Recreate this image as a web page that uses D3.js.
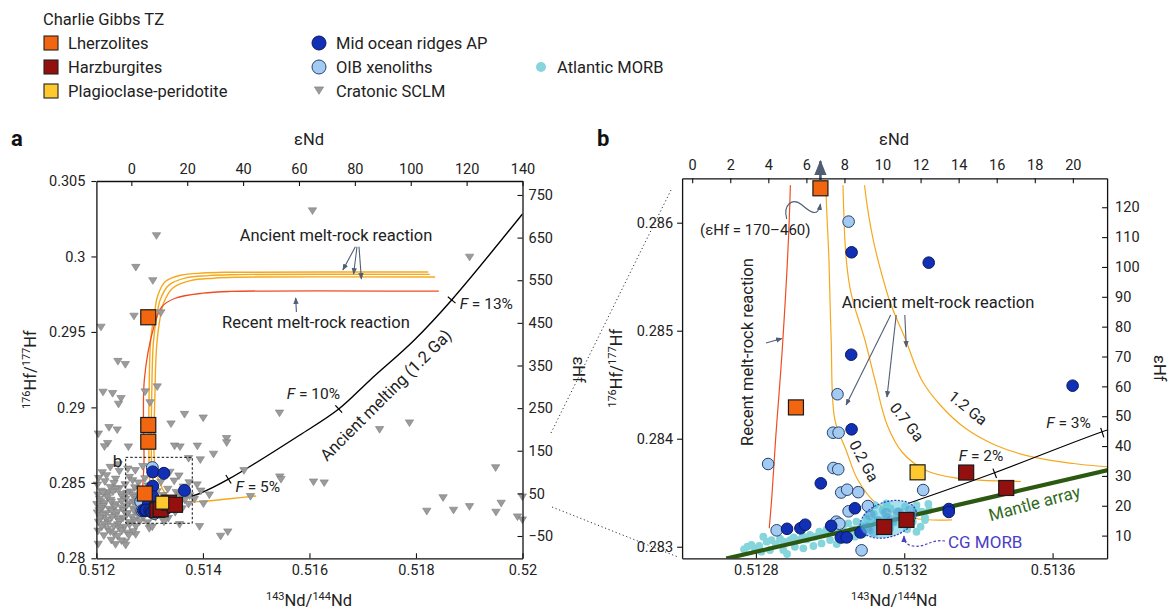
<!DOCTYPE html>
<html>
<head>
<meta charset="utf-8">
<script src="https://cdn.jsdelivr.net/npm/d3@7"></script>
<style>
  body { margin: 0; background: #fff; }
</style>
</head>
<body>
<svg id="chart" width="1172" height="611"></svg>
<script>
// ---------------- data (143Nd/144Nd, 176Hf/177Hf) ----------------
const lherzolites = [[0.512974, 0.295971], [0.512974, 0.288834], [0.512974, 0.287727], [0.512908, 0.284290]];
const harzburgites = [[0.513146, 0.283183], [0.513206, 0.283248], [0.513367, 0.283687], [0.513475, 0.283544]];
const plagPeridotite = [[0.513236, 0.283689]];

const midOceanAP = [
  [0.513058, 0.285726], [0.513266, 0.285630], [0.513057, 0.284778], [0.513654, 0.284491],
  [0.513058, 0.284087], [0.512975, 0.283587], [0.513067, 0.283356], [0.512884, 0.283166],
  [0.512920, 0.283171], [0.512933, 0.283204], [0.513003, 0.283194], [0.513029, 0.283086],
  [0.513045, 0.283087], [0.513082, 0.283132], [0.513320, 0.283349], [0.513320, 0.283322]
];

const oibXenoliths = [
  [0.513050, 0.286010], [0.513020, 0.284412], [0.513008, 0.284056], [0.513023, 0.284056],
  [0.512833, 0.283766], [0.513009, 0.283729], [0.513022, 0.283717], [0.513030, 0.283502],
  [0.513046, 0.283528], [0.513076, 0.283505], [0.513102, 0.283377], [0.513050, 0.283328],
  [0.513017, 0.283232], [0.513025, 0.283213], [0.512856, 0.283152], [0.513085, 0.282967],
  [0.513251, 0.283525]
];

const atlanticMorb = [
  [0.512768, 0.282976], [0.512777, 0.283000], [0.512788, 0.283016], [0.512797, 0.282985],
  [0.512809, 0.283007], [0.512820, 0.283093], [0.512829, 0.283047], [0.512842, 0.283062],
  [0.512854, 0.283025], [0.512865, 0.283075], [0.512875, 0.283047], [0.512884, 0.282933],
  [0.512892, 0.283062], [0.512902, 0.283087], [0.512914, 0.283062], [0.512926, 0.283099],
  [0.512937, 0.283068], [0.512946, 0.283109], [0.512959, 0.283093], [0.512971, 0.283139],
  [0.512982, 0.283118], [0.512991, 0.283161], [0.513004, 0.283139], [0.513016, 0.283179],
  [0.513022, 0.283124], [0.513035, 0.283192], [0.513049, 0.283217], [0.513061, 0.283161],
  [0.513071, 0.283232], [0.513085, 0.283201], [0.513098, 0.283263], [0.513107, 0.283223],
  [0.513118, 0.283303], [0.513130, 0.283247], [0.513142, 0.283340], [0.513152, 0.283278],
  [0.513163, 0.283355], [0.513172, 0.283223], [0.513184, 0.283325], [0.513193, 0.283254],
  [0.513202, 0.283371], [0.513214, 0.283294], [0.513223, 0.283232], [0.513233, 0.283340],
  [0.513244, 0.283186], [0.513256, 0.283272], [0.513267, 0.283340], [0.513233, 0.283139],
  [0.513208, 0.283161], [0.513161, 0.283179], [0.513136, 0.283149], [0.513107, 0.283149],
  [0.513089, 0.283118], [0.513067, 0.283093], [0.513035, 0.283062], [0.513018, 0.283025],
  [0.513000, 0.283062], [0.512977, 0.283031], [0.512955, 0.283007], [0.512928, 0.282985],
  [0.512905, 0.283000], [0.512874, 0.282970], [0.512838, 0.282970], [0.512815, 0.282954],
  [0.513152, 0.283402], [0.513121, 0.283386], [0.513233, 0.283386], [0.513247, 0.283325],
  [0.513265, 0.283396], [0.513256, 0.283247]
];

const cgMorb = [
  [0.513108, 0.283294], [0.513130, 0.283232], [0.513151, 0.283309], [0.513166, 0.283241],
  [0.513184, 0.283315], [0.513202, 0.283254], [0.513217, 0.283334], [0.513099, 0.283179],
  [0.513157, 0.283161], [0.513119, 0.283139]
];
const cgMorbCentre = [0.513157, 0.283254];

const cratonicSclm = [
  [0.516057, 0.303036], [0.513128, 0.301392], [0.512740, 0.299291], [0.513059, 0.298410],
  [0.512706, 0.296057], [0.513209, 0.296276], [0.512086, 0.295328], [0.519007, 0.299967],
  [0.512404, 0.293062], [0.512543, 0.292856], [0.512124, 0.291021], [0.512304, 0.290935],
  [0.512462, 0.290603], [0.512415, 0.290225], [0.512916, 0.291041], [0.513142, 0.291372],
  [0.513006, 0.290325], [0.512036, 0.288251], [0.512237, 0.288681], [0.512391, 0.288522],
  [0.512212, 0.287621], [0.512152, 0.287409], [0.512601, 0.287396], [0.513401, 0.288920],
  [0.513654, 0.289550], [0.514005, 0.289311], [0.513468, 0.287455], [0.513570, 0.287396],
  [0.513896, 0.287449], [0.514443, 0.287952], [0.514446, 0.287674], [0.515438, 0.289636],
  [0.517317, 0.288549], [0.517878, 0.288986], [0.514199, 0.286912], [0.513951, 0.286541],
  [0.513731, 0.286627], [0.514771, 0.285825], [0.515443, 0.285408], [0.515466, 0.285242],
  [0.516076, 0.285070], [0.516277, 0.285010], [0.519495, 0.286017], [0.518509, 0.284029],
  [0.519005, 0.283439], [0.519600, 0.283665], [0.519998, 0.284082], [0.518203, 0.283135],
  [0.518705, 0.283201], [0.519502, 0.283068], [0.519906, 0.282757], [0.519998, 0.282558],
  [0.514893, 0.284109], [0.513936, 0.282121], [0.514332, 0.281478], [0.514467, 0.281763],
  [0.512034, 0.280948], [0.512537, 0.281100], [0.512738, 0.281590], [0.512993, 0.281988],
  [0.513562, 0.282253],
  [0.51226, 0.28604], [0.51259, 0.28593], [0.51287, 0.28610], [0.51241, 0.28622],
  [0.51211, 0.28569], [0.51243, 0.28577], [0.51306, 0.28566], [0.51338, 0.28572], [0.51273, 0.28583],
  [0.51204, 0.28531], [0.51219, 0.28549], [0.51262, 0.28538], [0.51291, 0.28529], [0.51355, 0.28547], [0.51236, 0.28526],
  [0.51216, 0.28509], [0.51233, 0.28498], [0.51268, 0.28516], [0.51279, 0.28501], [0.51321, 0.28506],
  [0.51346, 0.28513], [0.51374, 0.28502],
  [0.51202, 0.28487], [0.51226, 0.28471], [0.51254, 0.28489], [0.51272, 0.28469], [0.51297, 0.28481],
  [0.51363, 0.28474], [0.51389, 0.28488], [0.51243, 0.28463],
  [0.51209, 0.28446], [0.51236, 0.28458], [0.51264, 0.28441], [0.51281, 0.28457], [0.51314, 0.28443],
  [0.51334, 0.28459], [0.51350, 0.28438], [0.51396, 0.28447], [0.51222, 0.28436],
  [0.51203, 0.28421], [0.51219, 0.28416], [0.51246, 0.28424], [0.51268, 0.28418], [0.51291, 0.28423],
  [0.51325, 0.28417], [0.51357, 0.28422], [0.51375, 0.28415], [0.51412, 0.28421],
  [0.51212, 0.28435], [0.51231, 0.28441], [0.51257, 0.28432], [0.51274, 0.28404], [0.51249, 0.28407],
  [0.51221, 0.28403],
  [0.51206, 0.28392], [0.51227, 0.28386], [0.51255, 0.28393], [0.51276, 0.28388], [0.51298, 0.28391],
  [0.51318, 0.28385], [0.51340, 0.28394], [0.51366, 0.28387], [0.51384, 0.28392],
  [0.51208, 0.28376], [0.51228, 0.28372], [0.51247, 0.28378], [0.51269, 0.28374], [0.51290, 0.28370],
  [0.51201, 0.28358], [0.51215, 0.28364], [0.51236, 0.28357], [0.51261, 0.28363], [0.51282, 0.28356],
  [0.51307, 0.28362], [0.51329, 0.28358], [0.51352, 0.28365], [0.51373, 0.28359], [0.51401, 0.28362],
  [0.51213, 0.28345], [0.51235, 0.28341], [0.51256, 0.28347], [0.51278, 0.28343], [0.51299, 0.28347],
  [0.51209, 0.28331], [0.51224, 0.28326], [0.51248, 0.28333], [0.51270, 0.28328], [0.51292, 0.28334],
  [0.51315, 0.28327], [0.51339, 0.28332], [0.51361, 0.28329],
  [0.51205, 0.28317], [0.51229, 0.28314], [0.51251, 0.28318], [0.51271, 0.28313], [0.51289, 0.28318],
  [0.51202, 0.28302], [0.51218, 0.28297], [0.51239, 0.28304], [0.51258, 0.28298], [0.51279, 0.28303],
  [0.51300, 0.28296], [0.51327, 0.28301], [0.51348, 0.28305],
  [0.51212, 0.28286], [0.51236, 0.28283], [0.51257, 0.28289], [0.51279, 0.28284],
  [0.51207, 0.28268], [0.51229, 0.28273], [0.51250, 0.28267], [0.51267, 0.28274], [0.51288, 0.28269],
  [0.51311, 0.28272], [0.51335, 0.28266],
  [0.51219, 0.28255], [0.51241, 0.28258], [0.51271, 0.28253],
  [0.51204, 0.28241], [0.51222, 0.28236], [0.51243, 0.28243], [0.51262, 0.28238], [0.51281, 0.28244],
  [0.51296, 0.28237], [0.51327, 0.28242],
  [0.51215, 0.28226], [0.51240, 0.28224], [0.51262, 0.28222],
  [0.51210, 0.28208], [0.51233, 0.28213], [0.51252, 0.28207], [0.51274, 0.28212], [0.51305, 0.28209],
  [0.51221, 0.28194], [0.51243, 0.28197],
  [0.51203, 0.28182], [0.51226, 0.28177], [0.51248, 0.28183], [0.51269, 0.28178],
  [0.51258, 0.28168], [0.51233, 0.28163],
  [0.51214, 0.28151], [0.51240, 0.28146], [0.51261, 0.28152],
  [0.51228, 0.28121], [0.51247, 0.28117], [0.51236, 0.28092], [0.51255, 0.28088]
];

// model curves
const meltCurve = [
  [0.51321, 0.28340], [0.51344, 0.28368], [0.51373, 0.28406], [0.51395, 0.28431], [0.51448, 0.28524],
  [0.51582, 0.28817], [0.51655, 0.28989], [0.51714, 0.29182], [0.51797, 0.29447], [0.51867, 0.29712],
  [0.52000, 0.30282]
];
const fMarksA = [['5%', 0.51448, 0.28524], ['10%', 0.51655, 0.28989], ['13%', 0.51867, 0.29712]];
const fMarksB = [['2%', 0.513444, 0.283680], ['3%', 0.513734, 0.284056]];

const recentReaction = [
  [0.51843, 0.29770], [0.5145, 0.29768], [0.5140, 0.29757], [0.51348, 0.29723], [0.51323, 0.29667],
  [0.51308, 0.29535], [0.51290, 0.29183], [0.512893, 0.286349], [0.512873, 0.284930],
  [0.512853, 0.283988], [0.512843, 0.283463], [0.512836, 0.283171]
];
const ancient02 = [
  [0.51823, 0.29897], [0.5144, 0.29895], [0.5140, 0.29890], [0.51360, 0.29877], [0.51329, 0.29833],
  [0.51315, 0.29740], [0.51310, 0.29645], [0.51302, 0.2945], [0.51299, 0.2910], [0.512988, 0.286442],
  [0.512997, 0.285655], [0.513003, 0.284914], [0.513013, 0.284174], [0.513043, 0.283896],
  [0.513075, 0.283618], [0.513124, 0.283405], [0.513224, 0.283266], [0.513329, 0.283248]
];
const ancient07 = [
  [0.51826, 0.29881], [0.5145, 0.29879], [0.5141, 0.29873], [0.51368, 0.29858], [0.51336, 0.29810],
  [0.51320, 0.29715], [0.51314, 0.29620], [0.51307, 0.2943], [0.51304, 0.2910], [0.513034, 0.286442],
  [0.513053, 0.285408], [0.513094, 0.284914], [0.513121, 0.284544], [0.513154, 0.284127],
  [0.513194, 0.283877], [0.513256, 0.283711], [0.513337, 0.283637], [0.513515, 0.283604]
];
const ancient12 = [
  [0.51836, 0.29864], [0.5146, 0.29862], [0.5142, 0.29856], [0.51376, 0.29840], [0.51343, 0.29790],
  [0.51326, 0.29690], [0.51320, 0.29600], [0.51313, 0.2940], [0.51310, 0.2910], [0.513090, 0.286442],
  [0.513154, 0.285347], [0.513204, 0.284914], [0.513247, 0.284544], [0.513297, 0.284312],
  [0.513364, 0.284099], [0.513445, 0.283942], [0.513539, 0.283836], [0.513647, 0.283775],
  [0.513769, 0.283738], [0.5140, 0.28378], [0.5145, 0.28395], [0.5150, 0.28413]
];
const mantleArray = [[0.51272, 0.28289], [0.51375, 0.28371]];
const zoomBox = [[0.51255, 0.28232], [0.5138, 0.28669]];

// ticks
const xTicksA = [0.512, 0.514, 0.516, 0.518, 0.52];
const xLabelsA = ['0.512', '0.514', '0.516', '0.518', '0.52'];
const yTicksA = [0.28, 0.285, 0.29, 0.295, 0.3, 0.305];
const yLabelsA = ['0.28', '0.285', '0.29', '0.295', '0.3', '0.305'];
const eNdTicksA = [0, 20, 40, 60, 80, 100, 120, 140];
const eHfTicksA = [-50, 50, 150, 250, 350, 450, 550, 650, 750];
const xTicksB = [0.5128, 0.5132, 0.5136];
const xLabelsB = ['0.5128', '0.5132', '0.5136'];
const yTicksB = [0.283, 0.284, 0.285, 0.286];
const yLabelsB = ['0.283', '0.284', '0.285', '0.286'];
const eNdTicksB = [0, 2, 4, 6, 8, 10, 12, 14, 16, 18, 20];
const eHfTicksB = [10, 20, 30, 40, 50, 60, 70, 80, 90, 100, 110, 120];

// ---------------- layout ----------------
const svg = d3.select('#chart');
const font = 'Roboto, "Liberation Sans", sans-serif';
svg.attr('font-family', font);

const pa = { left: 96.4, right: 522.5, top: 181, bottom: 558.3 };
const pb = { left: 682.1, right: 1107.1, top: 178.3, bottom: 558.3 };

const xA = d3.scaleLinear().domain([0.512, 0.52]).range([pa.left, pa.right]);
const yA = d3.scaleLinear().domain([0.28, 0.305]).range([pa.bottom, pa.top]);
const eNdA = d3.scaleLinear().domain([-12.5, 140]).range([pa.left, pa.right]);
const eHfA = d3.scaleLinear().domain([-102.3, 782.8]).range([pa.bottom, pa.top]);

const xB = d3.scaleLinear().domain([0.512601, 0.513747]).range([pb.left, pb.right]);
const yB = d3.scaleLinear().domain([0.282893, 0.286411]).range([pb.bottom, pb.top]);
const eNdB = d3.scaleLinear().domain([-0.53, 21.8]).range([pb.left, pb.right]);
const eHfB = d3.scaleLinear().domain([2.4, 129.7]).range([pb.bottom, pb.top]);

const col = {
  lherz: '#f2660f', harz: '#93100f', plag: '#fdc92e',
  ap: '#1230b6', oib: '#a3cbf1', sclm: '#9b9b9b', morb: '#86d5dc',
  ancient: '#f6a81c', recent: '#ef4c22', mantle: '#2c5912', arrow: '#4f5e74', text: '#222'
};
const tri = 'M-4.2,-2.8L4.2,-2.8L0,3.9Z';

const defs = svg.append('defs');
defs.append('marker').attr('id', 'arr').attr('viewBox', '0 0 10 10')
    .attr('refX', 9).attr('refY', 5).attr('markerWidth', 6).attr('markerHeight', 6)
    .attr('orient', 'auto')
  .append('path').attr('d', 'M0,1L10,5L0,9Z').attr('fill', col.arrow);
defs.append('marker').attr('id', 'arrBlue').attr('viewBox', '0 0 10 10')
    .attr('refX', 9).attr('refY', 5).attr('markerWidth', 6).attr('markerHeight', 6)
    .attr('orient', 'auto')
  .append('path').attr('d', 'M0,1L10,5L0,9Z').attr('fill', '#4a3ec4');
defs.append('clipPath').attr('id', 'clipA').append('rect')
  .attr('x', pa.left).attr('y', pa.top).attr('width', pa.right - pa.left).attr('height', pa.bottom - pa.top);
defs.append('clipPath').attr('id', 'clipB').append('rect')
  .attr('x', pb.left).attr('y', pb.top + 7).attr('width', pb.right - pb.left).attr('height', pb.bottom - pb.top - 7);
defs.append('clipPath').attr('id', 'clipB2').append('rect')
  .attr('x', pb.left).attr('y', pb.top).attr('width', pb.right - pb.left).attr('height', pb.bottom - pb.top);

// ---------------- legend ----------------
const leg = svg.append('g').attr('font-size', 16.5).attr('fill', col.text);
leg.append('text').attr('x', 43).attr('y', 25).text('Charlie Gibbs TZ');
const legSquares = [['Lherzolites', col.lherz, 43], ['Harzburgites', col.harz, 67], ['Plagioclase-peridotite', col.plag, 91]];
legSquares.forEach(([t, c, y]) => {
  leg.append('rect').attr('x', 44).attr('y', y - 7).attr('width', 14).attr('height', 14)
    .attr('fill', c).attr('stroke', '#222').attr('stroke-width', 1.1);
  leg.append('text').attr('x', 68).attr('y', y + 5.5).text(t);
});
leg.append('circle').attr('cx', 319).attr('cy', 43).attr('r', 7).attr('fill', col.ap).attr('stroke', '#0b1a5c');
leg.append('text').attr('x', 336).attr('y', 48.5).text('Mid ocean ridges AP');
leg.append('circle').attr('cx', 319).attr('cy', 67).attr('r', 7).attr('fill', col.oib).attr('stroke', '#26406e');
leg.append('text').attr('x', 336).attr('y', 72.5).text('OIB xenoliths');
leg.append('path').attr('d', tri).attr('transform', 'translate(319,90) scale(1.1)').attr('fill', col.sclm).attr('stroke', '#808080').attr('stroke-width', 0.6);
leg.append('text').attr('x', 336).attr('y', 96.5).text('Cratonic SCLM');
leg.append('circle').attr('cx', 541).attr('cy', 67).attr('r', 5).attr('fill', col.morb);
leg.append('text').attr('x', 557).attr('y', 72.5).text('Atlantic MORB');

// ---------------- axes ----------------
function styleAxis(g) {
  g.select('.domain').attr('stroke', '#111').attr('stroke-width', 1.3);
  g.selectAll('.tick line').attr('stroke', '#111').attr('stroke-width', 1.1);
  g.selectAll('.tick text').attr('font-size', 14.5).attr('fill', col.text).attr('font-family', font);
}
function axes(p, x, y, eNd, eHf, o) {
  svg.append('g').attr('transform', `translate(0,${p.bottom})`)
    .call(d3.axisBottom(x).tickValues(o.xt).tickFormat((d, i) => o.xl[i]).tickSize(-5).tickSizeOuter(0).tickPadding(6))
    .call(styleAxis);
  svg.append('g').attr('transform', `translate(${p.left},0)`)
    .call(d3.axisLeft(y).tickValues(o.yt).tickFormat((d, i) => o.yl[i]).tickSize(5).tickSizeOuter(0).tickPadding(o.lp))
    .call(styleAxis);
  svg.append('g').attr('transform', `translate(0,${p.top})`)
    .call(d3.axisTop(eNd).tickValues(o.nt).tickFormat(d3.format('d')).tickSize(-5).tickSizeOuter(0).tickPadding(o.tp))
    .call(styleAxis);
  svg.append('g').attr('transform', `translate(${p.right},0)`)
    .call(d3.axisRight(eHf).tickValues(o.ht).tickFormat(d => d < 0 ? '\u2212' + Math.abs(d) : d).tickSize(-5).tickSizeOuter(0).tickPadding(o.rp))
    .call(styleAxis);
}

function isoLabel(g, a, b) {
  g.append('tspan').attr('font-size', 11).attr('dy', -6).text(a[0]);
  g.append('tspan').attr('dy', 6).text(a[1]);
  g.append('tspan').attr('font-size', 11).attr('dy', -6).text(b[0]);
  g.append('tspan').attr('dy', 6).text(b[1]);
}
function titles(p, cx, leftX, rightX) {
  const t = svg.append('g').attr('font-size', 16.5).attr('fill', col.text);
  t.append('text').attr('x', cx).attr('y', 145).attr('text-anchor', 'middle').text('\u03b5Nd');
  isoLabel(t.append('text').attr('x', cx).attr('y', 606).attr('text-anchor', 'middle'), ['143', 'Nd/'], ['144', 'Nd']);
  isoLabel(t.append('text').attr('transform', `translate(${leftX},${(p.top + p.bottom) / 2}) rotate(-90)`).attr('text-anchor', 'middle'),
    ['176', 'Hf/'], ['177', 'Hf']);
  t.append('text').attr('transform', `translate(${rightX},${(p.top + p.bottom) / 2}) rotate(90)`)
    .attr('text-anchor', 'middle').text('\u03b5Hf');
}

// ---------------- panel a ----------------
const lineA = d3.line().x(d => xA(d[0])).y(d => yA(d[1])).curve(d3.curveCatmullRom.alpha(0.5));
const gA = svg.append('g');
const curvesA = gA.append('g').attr('clip-path', 'url(#clipA)').attr('fill', 'none');
[ancient02, ancient07, ancient12].forEach(c => curvesA.append('path').attr('d', lineA(c)).attr('stroke', col.ancient).attr('stroke-width', 1.4));
curvesA.append('path').attr('d', lineA(recentReaction)).attr('stroke', col.recent).attr('stroke-width', 1.3);
curvesA.append('path').attr('d', lineA(meltCurve)).attr('stroke', '#000').attr('stroke-width', 1.4);

gA.selectAll('.sclm').data(cratonicSclm).enter().append('path')
  .attr('d', tri).attr('transform', d => `translate(${xA(d[0])},${yA(d[1])})`)
  .attr('fill', col.sclm).attr('stroke', '#7d7d7d').attr('stroke-width', 0.6);

function fMark(g, x, y, m, len) {
  const p0 = [x(m[1]), y(m[2])];
  const i = meltCurve.findIndex(d => d[0] > m[1]);
  const a = meltCurve[Math.max(i - 1, 0)], b = meltCurve[Math.min(i, meltCurve.length - 1)];
  const ang = Math.atan2(y(b[1]) - y(a[1]), x(b[0]) - x(a[0])) + Math.PI / 2;
  g.append('line')
    .attr('x1', p0[0] - Math.cos(ang) * len).attr('y1', p0[1] - Math.sin(ang) * len)
    .attr('x2', p0[0] + Math.cos(ang) * len).attr('y2', p0[1] + Math.sin(ang) * len)
    .attr('stroke', '#000').attr('stroke-width', 1.2);
}
fMarksA.forEach(m => fMark(gA, xA, yA, m, 5));

gA.append('rect')
  .attr('x', xA(zoomBox[0][0])).attr('y', yA(zoomBox[1][1]))
  .attr('width', xA(zoomBox[1][0]) - xA(zoomBox[0][0])).attr('height', yA(zoomBox[0][1]) - yA(zoomBox[1][1]))
  .attr('fill', 'none').attr('stroke', '#111').attr('stroke-width', 1).attr('stroke-dasharray', '2.5,2');
gA.append('text').attr('x', xA(zoomBox[0][0]) - 13).attr('y', yA(zoomBox[1][1]) + 10)
  .attr('font-size', 17).attr('fill', col.text).text('b');

function circles(g, data, x, y, r, fill, stroke) {
  g.append('g').selectAll('circle').data(data).enter().append('circle')
    .attr('cx', d => x(d[0])).attr('cy', d => y(d[1])).attr('r', r)
    .attr('fill', fill).attr('stroke', stroke).attr('stroke-width', 1);
}
function squares(g, data, x, y, s, fill) {
  g.append('g').selectAll('rect').data(data).enter().append('rect')
    .attr('x', d => x(d[0]) - s / 2).attr('y', d => y(d[1]) - s / 2).attr('width', s).attr('height', s)
    .attr('fill', fill).attr('stroke', '#1a1a1a').attr('stroke-width', 1.2);
}
circles(gA, oibXenoliths, xA, yA, 6, col.oib, '#26406e');
circles(gA, midOceanAP, xA, yA, 6, col.ap, '#0b1a5c');
squares(gA, lherzolites, xA, yA, 15, col.lherz);
squares(gA, harzburgites, xA, yA, 15, col.harz);
squares(gA, plagPeridotite, xA, yA, 13, col.plag);

// annotations a
const annA = gA.append('g').attr('font-size', 16.5).attr('fill', col.text);
annA.append('text').attr('x', 336).attr('y', 241).attr('text-anchor', 'middle').text('Ancient melt-rock reaction');
annA.append('text').attr('x', 316).attr('y', 328).attr('text-anchor', 'middle').text('Recent melt-rock reaction');
[[355.4, 246.7, 342.9, 270], [357, 246.7, 353.6, 274], [359, 246.7, 361.4, 279], [296.4, 312, 295.7, 298]].forEach(a =>
  annA.append('line').attr('x1', a[0]).attr('y1', a[1]).attr('x2', a[2]).attr('y2', a[3])
    .attr('stroke', col.arrow).attr('stroke-width', 1.1).attr('marker-end', 'url(#arr)'));
const fOff = { '5%': [7, 13], '10%': [-52, -10], '13%': [8, 9] };
fMarksA.forEach(m => {
  const t = annA.append('text').attr('x', xA(m[1]) + fOff[m[0]][0]).attr('y', yA(m[2]) + fOff[m[0]][1]).attr('font-size', 15.5);
  t.append('tspan').attr('font-style', 'italic').text('F');
  t.append('tspan').text(' = ' + m[0]);
});
annA.append('text').attr('transform', 'translate(327,462) rotate(-45)').attr('font-size', 16.5).text('Ancient melting (1.2 Ga)');

axes(pa, xA, yA, eNdA, eHfA, { xt: xTicksA, xl: xLabelsA, yt: yTicksA, yl: yLabelsA, nt: eNdTicksA, ht: eHfTicksA, lp: 6, tp: 7, rp: 6 });
titles(pa, 309, 36, 573);

// connector lines between panels
[[551, 433, 672, 188], [552, 507, 678, 557]].forEach(c =>
  svg.append('line').attr('x1', c[0]).attr('y1', c[1]).attr('x2', c[2]).attr('y2', c[3])
    .attr('stroke', '#333').attr('stroke-width', 1).attr('stroke-dasharray', '1.2,2.6'));

// ---------------- panel b ----------------
const lineB = d3.line().x(d => xB(d[0])).y(d => yB(d[1])).curve(d3.curveCatmullRom.alpha(0.5));
const gB = svg.append('g');
const curvesB = gB.append('g').attr('clip-path', 'url(#clipB)').attr('fill', 'none');
[ancient02, ancient07, ancient12].forEach(c => curvesB.append('path').attr('d', lineB(c)).attr('stroke', col.ancient).attr('stroke-width', 1.2));
curvesB.append('path').attr('d', lineB(recentReaction)).attr('stroke', col.recent).attr('stroke-width', 1.2);

gB.append('g').selectAll('circle').data(atlanticMorb).enter().append('circle')
  .attr('cx', d => xB(d[0])).attr('cy', d => yB(d[1])).attr('r', 3.9).attr('fill', col.morb);

const fg = gB.append('g').attr('clip-path', 'url(#clipB2)').attr('fill', 'none');
fg.append('path').attr('d', lineB(mantleArray)).attr('stroke', col.mantle).attr('stroke-width', 4.2);
fg.append('path').attr('d', lineB(meltCurve)).attr('stroke', '#000').attr('stroke-width', 1.1);
fMarksB.forEach(m => fMark(gB, xB, yB, m, 5));

const inB = d => d[1] <= yB.domain()[1];
circles(gB, oibXenoliths.filter(inB), xB, yB, 5.8, col.oib, '#26406e');
circles(gB, midOceanAP.filter(inB), xB, yB, 5.8, col.ap, '#0b1a5c');

// CG MORB field
const ce = [xB(cgMorbCentre[0]), yB(cgMorbCentre[1])];
gB.append('ellipse').attr('cx', ce[0]).attr('cy', ce[1]).attr('rx', 29).attr('ry', 17.5)
  .attr('transform', `rotate(-18,${ce[0]},${ce[1]})`).attr('fill', '#5fc9dc').attr('fill-opacity', 0.55);
gB.append('g').selectAll('circle').data(cgMorb).enter().append('circle')
  .attr('cx', d => xB(d[0])).attr('cy', d => yB(d[1])).attr('r', 5.5)
  .attr('fill', '#4a94d0').attr('fill-opacity', 0.45);
gB.append('ellipse').attr('cx', ce[0]).attr('cy', ce[1]).attr('rx', 29).attr('ry', 17.5)
  .attr('transform', `rotate(-18,${ce[0]},${ce[1]})`).attr('fill', 'none')
  .attr('stroke', '#3038c8').attr('stroke-width', 1.2).attr('stroke-dasharray', '2,1.5');

squares(gB, lherzolites.filter(inB), xB, yB, 15, col.lherz);
squares(gB, plagPeridotite, xB, yB, 15, col.plag);
squares(gB, harzburgites, xB, yB, 15, col.harz);
// off-scale lherzolites shown at the top edge
const off = lherzolites.filter(d => !inB(d));
const offX = xB(d3.mean(off, d => d[0]));
gB.append('rect').attr('x', offX - 7.5).attr('y', pb.top + 2.5).attr('width', 15).attr('height', 15)
  .attr('fill', col.lherz).attr('stroke', '#1a1a1a').attr('stroke-width', 1.2);
gB.append('line').attr('x1', offX).attr('y1', pb.top + 2).attr('x2', offX).attr('y2', pb.top - 17)
  .attr('stroke', col.arrow).attr('stroke-width', 2.6).attr('marker-end', 'url(#arr)');

// annotations b
const annB = gB.append('g').attr('font-size', 16.5).attr('fill', col.text);
annB.append('text').attr('x', 700).attr('y', 235).attr('font-size', 15).text('(\u03b5Hf = 170\u2013460)');
annB.append('path').attr('d', `M786.7,219 C783,205 792,197 802,205 C810,212 818,218 ${offX},204`)
  .attr('fill', 'none').attr('stroke', col.arrow).attr('stroke-width', 1.1).attr('marker-end', 'url(#arr)');
annB.append('text').attr('transform', 'translate(753,352) rotate(-90)').attr('text-anchor', 'middle').text('Recent melt-rock reaction');
annB.append('line').attr('x1', 766).attr('y1', 343).attr('x2', xB(0.512873) - 1).attr('y2', 338.5)
  .attr('stroke', col.arrow).attr('stroke-width', 1.1).attr('marker-end', 'url(#arr)');
annB.append('text').attr('x', 938).attr('y', 308).attr('text-anchor', 'middle').text('Ancient melt-rock reaction');
[[890.7, 315, 846.1, 405], [896.2, 315, 887, 397], [904.8, 315, 906.3, 347]].forEach(a =>
  annB.append('line').attr('x1', a[0]).attr('y1', a[1]).attr('x2', a[2]).attr('y2', a[3])
    .attr('stroke', col.arrow).attr('stroke-width', 1.1).attr('marker-end', 'url(#arr)'));
[['0.2 Ga', 864, 461, 62], ['0.7 Ga', 907, 422, 52], ['1.2 Ga', 968, 408, 39]].forEach(l =>
  annB.append('text').attr('transform', `translate(${l[1]},${l[2]}) rotate(${l[3]})`)
    .attr('text-anchor', 'middle').attr('dy', '0.35em').attr('font-size', 15.5).text(l[0]));
const fOffB = { '2%': [-36, -12], '3%': [-56, -5] };
fMarksB.forEach(m => {
  const t = annB.append('text').attr('x', xB(m[1]) + fOffB[m[0]][0]).attr('y', yB(m[2]) + fOffB[m[0]][1]).attr('font-size', 15.5);
  t.append('tspan').attr('font-style', 'italic').text('F');
  t.append('tspan').text(' = ' + m[0]);
});
annB.append('text').attr('transform', 'translate(1036,509) rotate(-15)').attr('text-anchor', 'middle')
  .attr('fill', '#2f6a1b').attr('font-size', 17).text('Mantle array');
annB.append('text').attr('x', 948).attr('y', 548).attr('fill', '#4a3ec4').attr('font-size', 17).text('CG MORB');
annB.append('path').attr('d', 'M945,541 C930,539 926,548 913,546 C906,545 904,541 904,536')
  .attr('fill', 'none').attr('stroke', '#4a3ec4').attr('stroke-width', 1.2).attr('stroke-dasharray', '2.5,2')
  .attr('marker-end', 'url(#arrBlue)');

axes(pb, xB, yB, eNdB, eHfB, { xt: xTicksB, xl: xLabelsB, yt: yTicksB, yl: yLabelsB, nt: eNdTicksB, ht: eHfTicksB, lp: 4, tp: 8, rp: 8 });
titles(pb, 894, 622, 1154);

// panel letters
svg.append('text').attr('x', 11).attr('y', 146).attr('font-size', 22).attr('font-weight', 'bold').attr('fill', '#111').text('a');
svg.append('text').attr('x', 597).attr('y', 146).attr('font-size', 22).attr('font-weight', 'bold').attr('fill', '#111').text('b');
</script>
</body>
</html>
